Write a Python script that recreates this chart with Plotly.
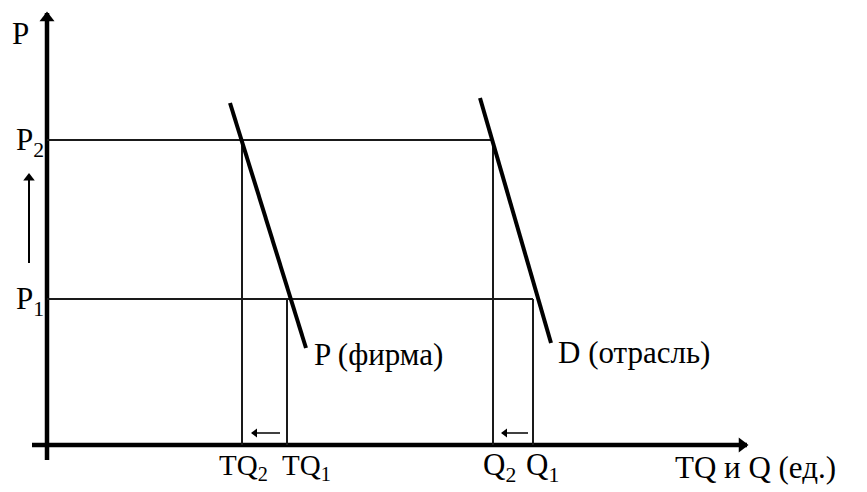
import plotly.graph_objects as go

# Price levels (P units) and quantities (Q units), origin at the axes crossing
P1, P2 = 14.6, 30.5
TQ2, TQ1 = 19.5, 24.0
Q2, Q1 = 44.6, 48.6

# Demand curves: end points (x, y)
firm_x = [18.3, 25.9]
firm_y = [34.2, 9.7]
ind_x = [43.3, 50.4]
ind_y = [34.7, 10.2]

# Axes extents
x_axis = [-1.5, 70.0]
y_axis = [-1.5, 43.2]

# Arrows: shift of quantity and rise in price
shift_y = 1.2
firm_shift = [23.3, 20.5]
ind_shift = [48.1, 45.5]
price_arrow_x = -1.8
price_arrow = [18.2, 27.0]

FONT = "Liberation Serif"
LBL = 31
BLACK = "#000000"
THIN = "#1a1a1a"

fig = go.Figure()

def seg(xs, ys, w, c):
    fig.add_trace(go.Scatter(x=xs, y=ys, mode="lines",
                             line=dict(color=c, width=w),
                             hoverinfo="skip", showlegend=False))

def head(x, y, sym, size):
    fig.add_trace(go.Scatter(x=[x], y=[y], mode="markers",
                             marker=dict(symbol=sym, size=size, color=BLACK,
                                         line=dict(width=0)),
                             hoverinfo="skip", showlegend=False))

# axes
seg(x_axis, [0, 0], 4.5, BLACK)
seg([0, 0], y_axis, 4.5, BLACK)
head(x_axis[1] - 0.5, 0, "triangle-right", 13)
head(0, y_axis[1] - 0.5, "triangle-up", 13)

# horizontal price lines
seg([0, Q2], [P2, P2], 2, THIN)
seg([0, Q1], [P1, P1], 2, THIN)
# vertical quantity lines
seg([TQ2, TQ2], [0, P2], 2, THIN)
seg([TQ1, TQ1], [0, P1], 2, THIN)
seg([Q2, Q2], [0, P2], 2, THIN)
seg([Q1, Q1], [0, P1], 2, THIN)

# demand curves
seg(firm_x, firm_y, 4, BLACK)
seg(ind_x, ind_y, 4, BLACK)

# shift arrows
seg(firm_shift, [shift_y, shift_y], 1.5, BLACK)
head(firm_shift[1] + 0.3, shift_y, "triangle-left", 8)
seg(ind_shift, [shift_y, shift_y], 1.5, BLACK)
head(ind_shift[1] + 0.3, shift_y, "triangle-left", 8)
seg([price_arrow_x, price_arrow_x], price_arrow, 2, BLACK)
head(price_arrow_x, price_arrow[1] - 0.3, "triangle-up", 10)

def label(text, x, y, xa="center", ya="middle", size=LBL):
    fig.add_annotation(x=x, y=y, xref="x", yref="y", text=text,
                       showarrow=False, xanchor=xa, yanchor=ya,
                       font=dict(family=FONT, size=size, color=BLACK))

label("P", -1.6, 41.2, "right")
label("P<sub>2</sub>", -0.1, 30.3, "right")
label("P<sub>1</sub>", -0.1, 14.4, "right")
label("TQ<sub>2</sub>", TQ2 + 0.1, -2.2, "center", size=29)
label("TQ<sub>1</sub>", TQ1 + 1.9, -2.2, "center", size=29)
label("Q<sub>2</sub>", Q2 + 0.6, -2.2, "center")
label("Q<sub>1</sub>", Q1 + 0.9, -2.2, "center")
label("TQ и Q (ед.)", 62.6, -2.2, "left")
label("P (фирма)", 26.5, 9.1, "left")
label("D (отрасль)", 50.9, 9.3, "left")

# page body has an 8px margin: shift ranges so the picture lands in place
fig.update_layout(
    width=867, height=492,
    margin=dict(l=0, r=0, t=0, b=0),
    paper_bgcolor="white", plot_bgcolor="white",
    xaxis=dict(range=[-3.9, 82.8], visible=False, fixedrange=True),
    yaxis=dict(range=[-5.5, 43.7], visible=False, fixedrange=True),
)

fig.write_html("out.html")
